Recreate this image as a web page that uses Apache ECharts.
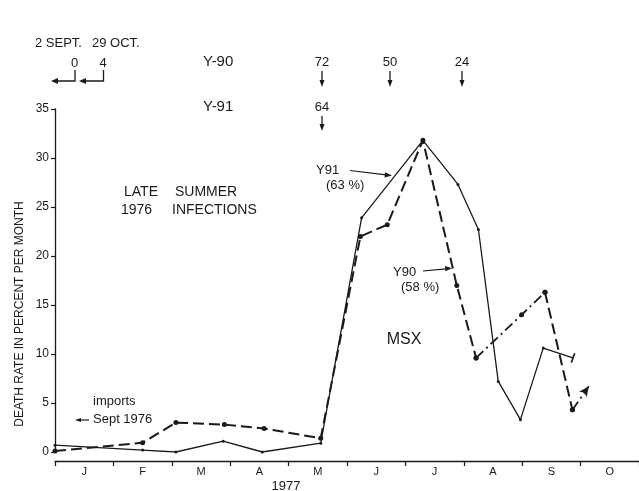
<!DOCTYPE html>
<html><head><meta charset="utf-8">
<script src="https://cdn.jsdelivr.net/npm/echarts@6/dist/echarts.min.js"></script>
<style>html,body{margin:0;padding:0;background:#fff}#c{width:639px;height:491px}</style>
</head><body><div id="c"></div>
<script>
// ---- data ----
const months = ['J','F','M','A','M','J','J','A','S','O'];
// month position: 0 = start of January 1977
const y91Month = [0, 1.50, 2.07, 2.88, 3.55, 4.55, 5.25, 6.30, 6.90, 7.25, 7.59, 7.97, 8.36, 8.87];
const y91Rate  = [0.7, 0.2, 0.0, 1.1, 0.0, 0.9, 23.9, 31.8, 27.3, 22.7, 7.2, 3.3, 10.6, 9.6];
const y90Month = [0, 1.50, 2.07, 2.90, 3.58, 4.55, 5.23, 5.69, 6.30, 6.88, 7.21, 7.99, 8.39, 8.86, 9.14];
const y90Rate  = [0.1, 0.95, 3.0, 2.8, 2.4, 1.4, 22.0, 23.2, 31.8, 17.0, 9.6, 14.0, 16.3, 4.3, 6.7];
const survivorLabels = ['72','50','24'];
const survivorY91 = ['64'];

const FONT = '"Liberation Sans", Arial, sans-serif';
const INK = '#1a1a1a';

function pts(mArr, vArr, a, b){
  const out=[];
  for(let i=a;i<=b;i++) out.push([mArr[i], vArr[i]]);
  return out;
}
const dash = [11,5];
const dashDot = [10,4,2,4];

const y91Data = pts(y91Month, y91Rate, 0, y91Month.length-1);
y91Data[y91Data.length-1] = {value: y91Data[y91Data.length-1], symbol:'rect', symbolSize:[1.6,10], symbolRotate:-19.6};

const segA = pts(y90Month, y90Rate, 0, 10);
const segB = pts(y90Month, y90Rate, 10, 12);
const segC = pts(y90Month, y90Rate, 12, 13);
const segD = pts(y90Month, y90Rate, 13, 14);
segD[1] = {value: segD[1], symbol:'arrow', symbolSize:[7,10], symbolRotate:-35.6};

function txt(x,y,s,opt){
  opt=opt||{};
  return {type:'text', x:x, y:y, rotation: opt.rot||0, silent:true,
    style:{text:s, fill:INK, font:(opt.w||'normal')+' '+(opt.size||13)+'px '+FONT,
      textAlign:opt.align||'left', textVerticalAlign:'middle'}};
}
function line(pts2, w){
  return {type:'polyline', silent:true, shape:{points:pts2}, style:{stroke:INK, lineWidth:w||1.3, fill:null}};
}
function head(p){
  return {type:'polygon', silent:true, shape:{points:p}, style:{fill:INK}};
}
function downArrow(x, y0, y1){
  return [line([[x,y0],[x,y1-5]],1.3), head([[x-2.5,y1-7],[x+2.5,y1-7],[x,y1]])];
}

const g = [];
g.push(txt(35,43,'2 SEPT.'), txt(92,43,'29 OCT.'));
g.push(txt(74.5,63,'0',{align:'center'}), txt(103,63,'4',{align:'center'}));
g.push(line([[75,70],[75,81],[57,81]]), head([[51,81],[58,78],[58,84]]));
g.push(line([[103.5,70],[103.5,81],[85,81]]), head([[79,81],[86,78],[86,84]]));
g.push(txt(203,62,'Y-90',{size:15}), txt(203,107,'Y-91',{size:15}));
const arrowX = [322, 390, 462];
survivorLabels.forEach((s,i)=>{ g.push(txt(arrowX[i],62,s,{align:'center'})); g.push(...downArrow(arrowX[i],71,87)); });
g.push(txt(322,107,survivorY91[0],{align:'center'})); g.push(...downArrow(322,116,131));
g.push(txt(124,192,'LATE',{size:14}), txt(175,192,'SUMMER',{size:14}));
g.push(txt(121,210,'1976',{size:14}), txt(172,210,'INFECTIONS',{size:14}));
g.push(txt(316,170,'Y91'), txt(326,185,'(63 %)'));
g.push(line([[350,170.5],[386,174.8]],1.2), head([[392,175.5],[385,172.3],[384.6,177.6]]));
g.push(txt(393,272,'Y90'), txt(401,287,'(58 %)'));
g.push(line([[423,271],[446,268.8]],1.2), head([[452,268.2],[445,266],[445.5,271.3]]));
g.push(txt(404,340,'MSX',{size:16,align:'center'}));
g.push(txt(93,401,'imports'), txt(93,419,'Sept 1976'));
g.push(line([[80,420],[89,420]],1.2), head([[75,420],[81,418],[81,422]]));
g.push(txt(286,486,'1977',{size:13,align:'center'}));
g.push(txt(20,314,'DEATH RATE IN PERCENT PER MONTH',{size:12,align:'center',rot:Math.PI/2}));

const chart = echarts.init(document.getElementById('c'), null, {renderer:'canvas'});
chart.setOption({
  animation:false,
  backgroundColor:'#fff',
  grid:{left:55, right:-3, top:109, bottom:39, containLabel:false},
  xAxis:[
    {type:'value', min:0, max:10, show:false},
    {type:'category', data:months, boundaryGap:true, position:'bottom', offset:9,
      axisLine:{lineStyle:{color:INK, width:1.3}},
      axisTick:{show:true, length:5, lineStyle:{color:INK, width:1.2}},
      axisLabel:{color:INK, fontSize:11, fontFamily:FONT, margin:5}}
  ],
  yAxis:{type:'value', min:0, max:35, interval:5,
    axisLine:{show:true, lineStyle:{color:INK, width:1.3}},
    axisTick:{show:true, length:4, lineStyle:{color:INK, width:1.2}},
    axisLabel:{color:INK, fontSize:12, fontFamily:FONT, margin:6},
    splitLine:{show:false}},
  series:[
    {type:'line', name:'Y91', xAxisIndex:0, data:y91Data, symbol:'circle', symbolSize:3,
      lineStyle:{color:INK, width:1.3}, itemStyle:{color:INK}},
    {type:'line', name:'Y90', xAxisIndex:0, data:segA, symbol:'circle', symbolSize:5,
      lineStyle:{color:INK, width:2, type:dash}, itemStyle:{color:INK}},
    {type:'line', name:'Y90b', xAxisIndex:0, data:segB, symbol:'circle', symbolSize:5,
      lineStyle:{color:INK, width:1.8, type:dashDot}, itemStyle:{color:INK}},
    {type:'line', name:'Y90c', xAxisIndex:0, data:segC, symbol:'circle', symbolSize:5,
      lineStyle:{color:INK, width:2, type:dash}, itemStyle:{color:INK}},
    {type:'line', name:'Y90d', xAxisIndex:0, data:segD, symbol:'circle', symbolSize:5,
      lineStyle:{color:INK, width:1.8, type:dashDot}, itemStyle:{color:INK}}
  ],
  graphic:g
});
</script></body></html>
